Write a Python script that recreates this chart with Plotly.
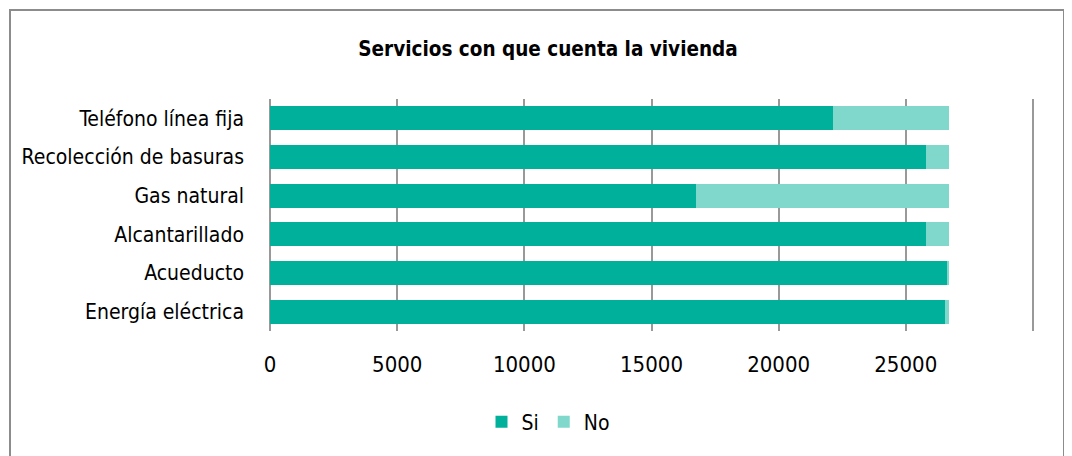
import plotly.graph_objects as go

categories = ["Energía eléctrica", "Acueducto", "Alcantarillado", "Gas natural",
              "Recolección de basuras", "Teléfono línea fija"]
si_values = [26560, 26660, 25800, 16750, 25800, 22150]
no_values = [130, 30, 890, 9940, 890, 4540]
tick_vals = [0, 5000, 10000, 15000, 20000, 25000, 30000]
tick_text = ["0", "5000", "10000", "15000", "20000", "25000", ""]

FONT = "DejaVu Sans Condensed"
OFF = 8  # page body margin
W, H = 1072 - OFF, 456 - OFF
L, T = 269 - OFF, 99 - OFF
R = W - (1034 - OFF)
B = H - (331 - OFF)
PW, PH = W - L - R, H - T - B

fig = go.Figure()
fig.add_trace(go.Bar(y=categories, x=si_values, name="Si", orientation="h",
                     marker=dict(color="#00B09B", line=dict(width=0))))
fig.add_trace(go.Bar(y=categories, x=no_values, name="No", orientation="h",
                     marker=dict(color="#80D8CC", line=dict(width=0))))

fig.update_layout(
    barmode="stack",
    bargap=0.38,
    width=W, height=H,
    margin=dict(l=L, r=R, t=T, b=B, autoexpand=False),
    paper_bgcolor="white", plot_bgcolor="white",
    font=dict(family=FONT, size=21, color="#000000"),
    title=dict(text="<b>Servicios con que cuenta la vivienda</b>",
               font=dict(family=FONT, size=20.5, color="#000000"),
               x=(548 - OFF) / W, xanchor="center", xref="container",
               y=1 - (49 - OFF) / H, yanchor="middle", yref="container"),
    xaxis=dict(range=[-45, 30045], tickvals=tick_vals, ticktext=tick_text,
               showgrid=True, gridcolor="#999999", gridwidth=1.5,
               zeroline=False, showline=False, ticks="", automargin=False,
               tickfont=dict(family=FONT, size=22), ticklabelstandoff=18),
    yaxis=dict(showgrid=False, ticks="", showline=False, automargin=False,
               tickfont=dict(family=FONT, size=21), ticklabelstandoff=24),
    legend=dict(orientation="h", x=(548 - OFF - L) / PW, xanchor="center",
                y=(H - B - (422 - OFF)) / PH, yanchor="middle",
                font=dict(family=FONT, size=21), itemwidth=30,
                traceorder="normal"),
    showlegend=True,
)
# outer chart border
fig.add_shape(type="rect", xref="paper", yref="paper",
              x0=(10 - OFF - L) / PW, x1=(1064 - OFF - L) / PW,
              y0=(H - B - 480) / PH, y1=(H - B - (10 - OFF)) / PH,
              line=dict(color="#8c8c8c", width=2), fillcolor="rgba(0,0,0,0)", layer="below")
fig.write_html("out.html")
